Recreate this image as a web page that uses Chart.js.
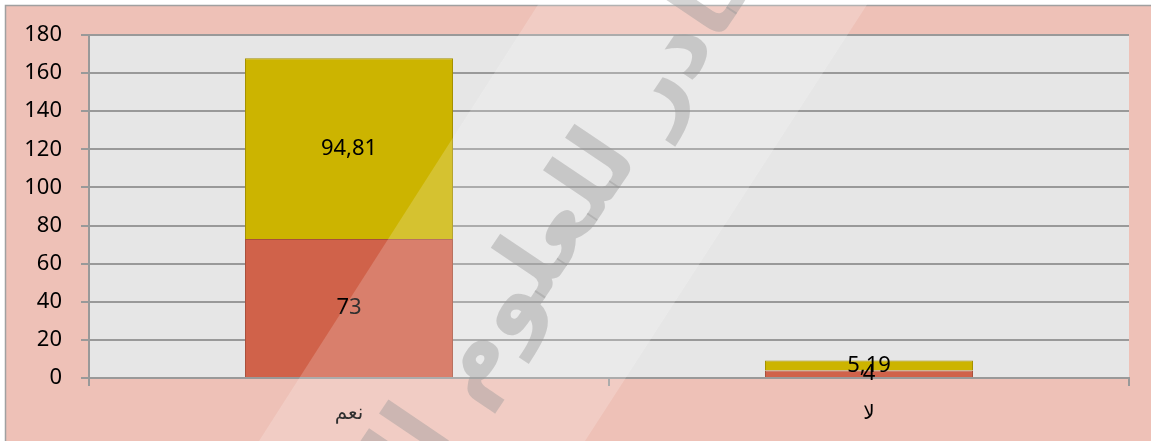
<!DOCTYPE html>
<html lang="ar">
<head>
<meta charset="utf-8">
<title>نعم / لا</title>
<script src="https://cdn.jsdelivr.net/npm/chart.js@4.4.1/dist/chart.umd.min.js"></script>
<style>
    html, body { margin: 0; padding: 0; background: #ffffff; }
    #answers-chart { display: block; }
</style>
</head>
<body>
<canvas id="answers-chart" width="1151" height="441"></canvas>
<script>
// Answers per category, two stacked series
const categories = ['نعم', 'لا'];
const lowerSeries = [73, 4];
const upperSeries = [94.81, 5.19];
const yMin = 0;
const yMax = 180;
const yStep = 20;

const GRID_GRAY = '#999999';
const PAGE_PINK = '#eec1b7';
const PLOT_GRAY = '#e6e6e6';

// Decimal comma, as in the printed report
function formatValue(v) {
    return String(v).replace('.', ',');
}

// Page background, frame and plot area fill
const backdrop = {
    id: 'backdrop',
    beforeDraw(chart) {
        const ctx = chart.ctx;
        const area = chart.chartArea;
        ctx.save();
        ctx.fillStyle = '#ffffff';
        ctx.fillRect(0, 0, chart.width, chart.height);
        ctx.fillStyle = PAGE_PINK;
        ctx.fillRect(5, 5, chart.width - 5, chart.height - 5);
        ctx.strokeStyle = '#a0a0a0';
        ctx.lineWidth = 1.5;
        ctx.beginPath();
        ctx.moveTo(5.5, chart.height);
        ctx.lineTo(5.5, 5.5);
        ctx.lineTo(chart.width, 5.5);
        ctx.stroke();
        ctx.fillStyle = PLOT_GRAY;
        ctx.fillRect(area.left, area.top, area.right - area.left, area.bottom - area.top);
        ctx.restore();
    }
};

// Value written in the middle of every bar segment
const valueLabels = {
    id: 'valueLabels',
    afterDatasetsDraw(chart) {
        const ctx = chart.ctx;
        ctx.save();
        ctx.font = '22px "Noto Sans", sans-serif';
        ctx.fillStyle = '#000000';
        ctx.textAlign = 'center';
        ctx.textBaseline = 'middle';
        chart.data.datasets.forEach((ds, i) => {
            const meta = chart.getDatasetMeta(i);
            meta.data.forEach((bar, j) => {
                const p = bar.getProps(['x', 'y', 'base'], true);
                ctx.fillText(formatValue(ds.data[j]), p.x, (p.y + p.base) / 2);
            });
        });
        ctx.restore();
    }
};

// Diagonal university watermark and light sheen band
const watermark = {
    id: 'watermark',
    afterDraw(chart) {
        const ctx = chart.ctx;
        const angle = -56 * Math.PI / 180;
        const ux = Math.cos(angle);
        const uy = Math.sin(angle);
        // words from lower-left to upper-right along the baseline
        const words = ['الإسلامية', 'للعلوم', 'القادر', 'عبد'];
        const anchor = 1;
        const cx = 535, cy = 268;

        ctx.save();
        ctx.font = 'bold 96px "DejaVu Sans", sans-serif';
        ctx.fillStyle = 'rgba(128, 128, 128, 0.42)';
        ctx.textAlign = 'center';
        ctx.textBaseline = 'middle';
        const gap = ctx.measureText(' ').width;
        const widths = words.map(w => ctx.measureText(w).width);
        const offsets = [];
        offsets[anchor] = 0;
        for (let i = anchor + 1; i < words.length; i++) {
            offsets[i] = offsets[i - 1] + widths[i - 1] / 2 + gap + widths[i] / 2;
        }
        for (let i = anchor - 1; i >= 0; i--) {
            offsets[i] = offsets[i + 1] - widths[i + 1] / 2 - gap - widths[i] / 2;
        }
        words.forEach((w, i) => {
            ctx.save();
            ctx.translate(cx + ux * offsets[i], cy + uy * offsets[i]);
            ctx.rotate(angle);
            ctx.fillText(w, 0, 0);
            ctx.restore();
        });

        ctx.fillStyle = 'rgba(255, 255, 255, 0.19)';
        ctx.beginPath();
        ctx.moveTo(541, 0);
        ctx.lineTo(870, 0);
        ctx.lineTo(585, chart.height);
        ctx.lineTo(259, chart.height);
        ctx.closePath();
        ctx.fill();
        ctx.restore();
    }
};

function initChart() {
    Chart.defaults.font.family = '"Noto Sans", sans-serif';
    Chart.defaults.color = '#000000';

    const ctx = document.getElementById('answers-chart').getContext('2d');
    return new Chart(ctx, {
        type: 'bar',
        data: {
            labels: categories,
            datasets: [{
                data: lowerSeries,
                backgroundColor: '#d0624a',
                borderColor: '#a9503c',
                borderWidth: 1
            }, {
                data: upperSeries,
                backgroundColor: '#ccb400',
                borderColor: '#a59100',
                borderWidth: 1
            }]
        },
        options: {
            responsive: false,
            animation: false,
            events: [],
            categoryPercentage: 0.4,
            barPercentage: 1,
            layout: {
                padding: { top: 35, right: 22, left: 0, bottom: 0 }
            },
            plugins: {
                legend: { display: false },
                tooltip: { enabled: false }
            },
            scales: {
                x: {
                    stacked: true,
                    offset: true,
                    afterFit(scale) { scale.height = 63; },
                    grid: {
                        offset: true,
                        drawOnChartArea: false,
                        tickLength: 8,
                        color: GRID_GRAY,
                        lineWidth: 2
                    },
                    border: { color: GRID_GRAY, width: 2 },
                    ticks: {
                        padding: 16,
                        font: { family: '"DejaVu Sans", sans-serif', size: 20 },
                        color: '#000000'
                    }
                },
                y: {
                    stacked: true,
                    min: yMin,
                    max: yMax,
                    afterFit(scale) { scale.width = 89; },
                    grid: {
                        tickLength: 8,
                        color: GRID_GRAY,
                        lineWidth: 2
                    },
                    border: { color: GRID_GRAY, width: 2 },
                    ticks: {
                        stepSize: yStep,
                        padding: 19,
                        font: { size: 22 },
                        color: '#000000'
                    }
                }
            }
        },
        plugins: [backdrop, valueLabels, watermark]
    });
}

window.addEventListener('DOMContentLoaded', () => {
    initChart();
});
</script>
</body>
</html>
